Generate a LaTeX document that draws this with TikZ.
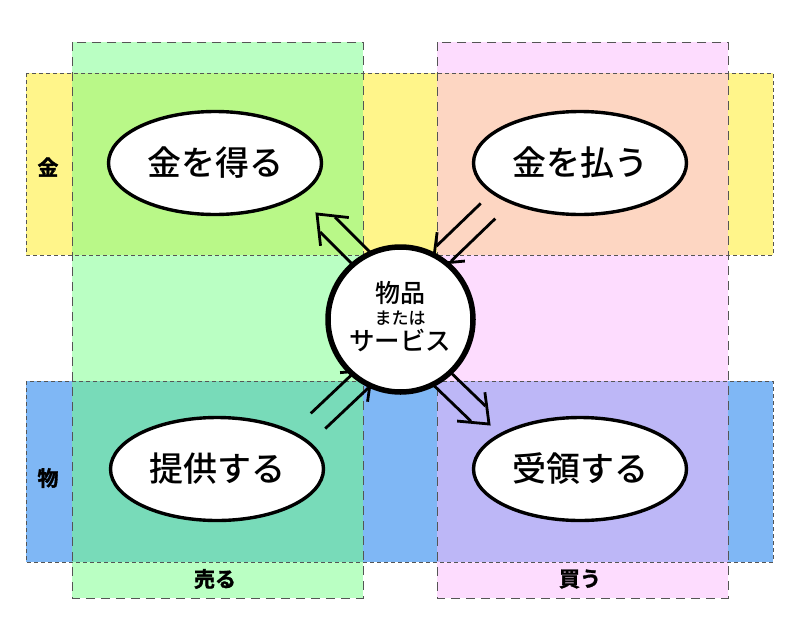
\documentclass[tikz,border=0pt]{standalone}
\usepackage{fontspec}
\setmainfont{Noto Sans CJK JP Medium}
\newfontfamily\lblfont{Noto Sans CJK JP Bold}[FakeBold=1.5]
\usetikzlibrary{arrows.meta,shapes.geometric,calc}
\definecolor{cgreen}{HTML}{BAFFC3}
\definecolor{cpink}{HTML}{FDDCFE}
\definecolor{cyellow}{HTML}{FFF58A}
\definecolor{cblue}{HTML}{7FB7F5}
\definecolor{ctl}{HTML}{B9F888}
\definecolor{ctr}{HTML}{FDD6C2}
\definecolor{cbl}{HTML}{78DBB9}
\definecolor{cbr}{HTML}{BDB7F7}
\definecolor{cdash}{HTML}{555555}
\tikzset{
  band/.style={draw=cdash, line width=0.9pt},
  vband/.style={band, dash pattern=on 9pt off 6pt},
  hband/.style={band, dash pattern=on 4pt off 3pt},
  act/.style={ellipse, draw=black, fill=white, line width=3.4pt, minimum width=213pt, minimum height=103pt, font=\fontsize{34}{40}\selectfont, inner sep=0pt},
  hub/.style={circle, draw=black, fill=white, line width=5.5pt, minimum size=145pt, inner sep=0pt},
  lbl/.style={font=\lblfont\fontsize{21}{24}\selectfont},
  flow/.style={draw=black, line width=2.8pt, line join=miter},
}
% #1 start coordinate, #2 tip coordinate
\newcommand\flowarrow[2]{%
  \coordinate (#1b) at ($(#2)!15pt!(#1)$);
  \coordinate (#1c) at ($(#2)!25pt!(#1)$);
  \draw[flow] ($(#1)!10.5pt!90:(#2)$) -- ($(#1b)!10.5pt!-90:(#1)$);
  \draw[flow] ($(#1)!10.5pt!-90:(#2)$) -- ($(#1b)!10.5pt!90:(#1)$);
  \draw[flow] ($(#1c)!20pt!-90:(#1)$) -- (#2) -- ($(#1c)!20pt!90:(#1)$);
}
\begin{document}
\begin{tikzpicture}[x=1pt, y=-1pt]
\useasboundingbox (0,0) rectangle (800,640);
\fill[white] (0,0) rectangle (800,640);
% bands
\fill[cgreen] (72,42) rectangle (363,598);
\fill[cpink] (437,42) rectangle (728,598);
\fill[cyellow] (26,73) rectangle (773,255);
\fill[cblue] (26,381) rectangle (773,562);
\fill[ctl] (72,73) rectangle (363,255);
\fill[ctr] (437,73) rectangle (728,255);
\fill[cbl] (72,381) rectangle (363,562);
\fill[cbr] (437,381) rectangle (728,562);
\draw[vband] (72,42) rectangle (363,598);
\draw[vband] (437,42) rectangle (728,598);
\draw[hband] (26,73) rectangle (773,255);
\draw[hband] (26,381) rectangle (773,562);
% labels
\node[lbl] (lmoney) at (48,167) {金};
\node[lbl] (lgoods) at (48,478) {物};
\node[lbl] (lsell) at (215,579) {売る};
\node[lbl] (lbuy) at (580,579) {買う};
% activities
\node[act] (get) at (215,163) {金を得る};
\node[act] (pay) at (580,163) {金を払う};
\node[act] (give) at (217,469) {提供する};
\node[act] (recv) at (580,469) {受領する};
% arrows
\coordinate (a1s) at (371,268);
\coordinate (a1e) at (317,214);
\coordinate (a2s) at (488,211);
\coordinate (a2e) at (433,264);
\coordinate (a3s) at (318,421);
\coordinate (a3e) at (372,370);
\coordinate (a4s) at (434,371);
\coordinate (a4e) at (489,424);
\flowarrow{a1s}{a1e}
\flowarrow{a2s}{a2e}
\flowarrow{a3s}{a3e}
\flowarrow{a4s}{a4e}
% hub
\node[hub] (hub) at (400.5,319.5) {};
\node[font=\fontsize{25}{28}\selectfont] (t1) at (400,293) {物品};
\node[font=\fontsize{17}{20}\selectfont] (t2) at (400,318) {または};
\node[font=\fontsize{25.5}{30}\selectfont] (t3) at (400,341) {サービス};
\end{tikzpicture}
\end{document}
